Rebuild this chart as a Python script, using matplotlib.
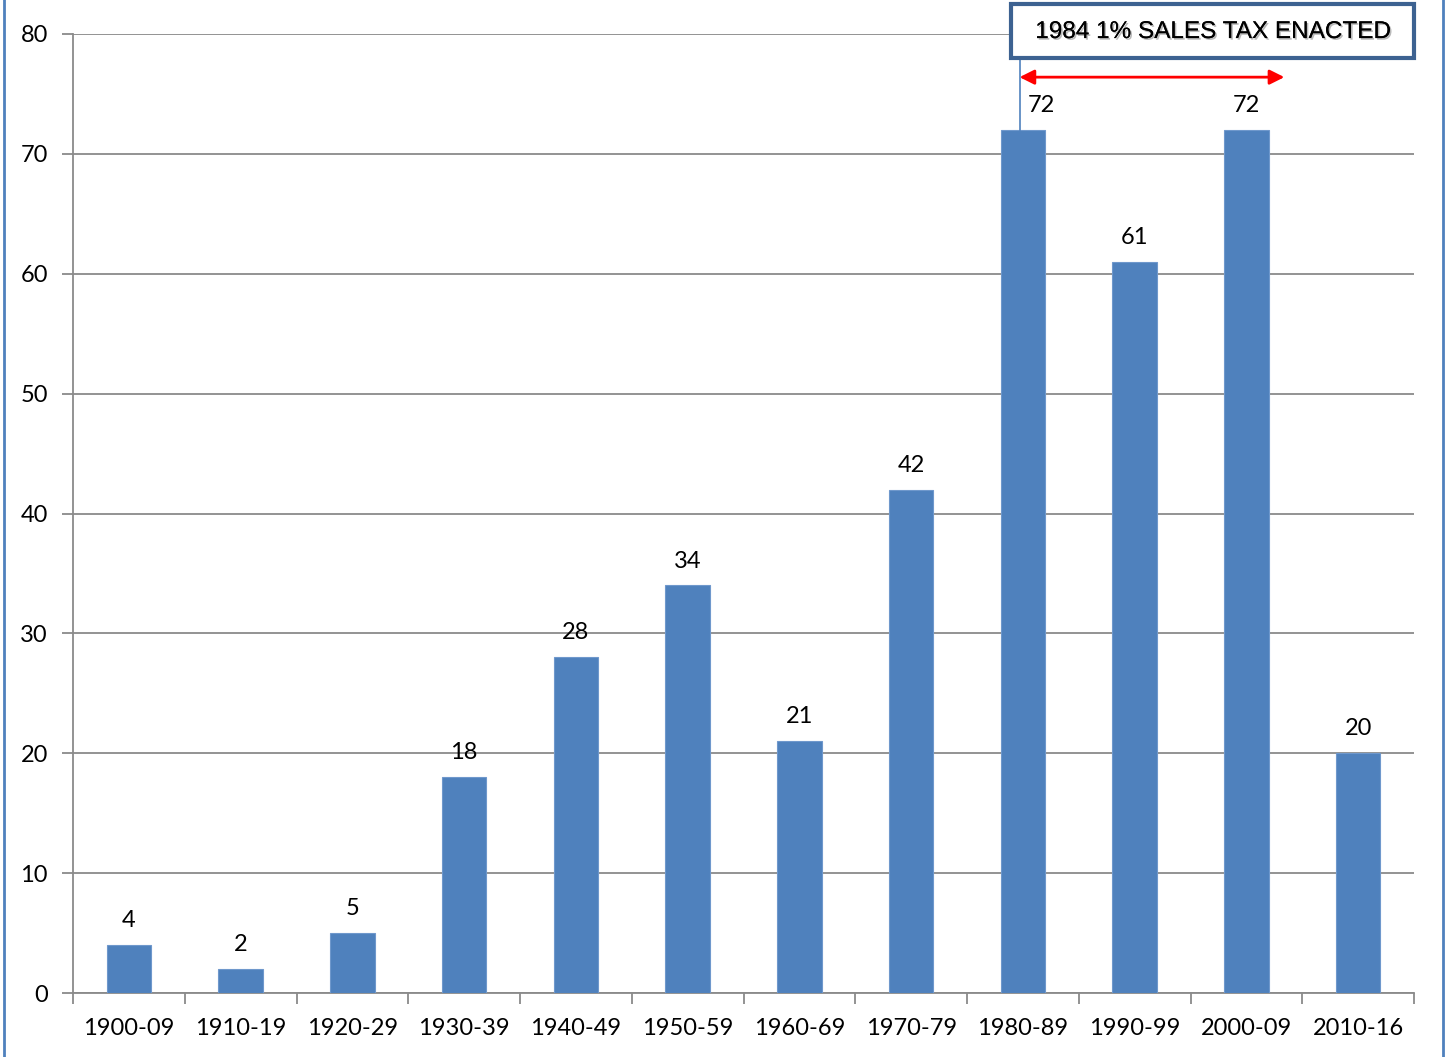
import matplotlib
matplotlib.use("Agg")
import matplotlib.pyplot as plt
from matplotlib.lines import Line2D
import matplotlib.patheffects as pe

categories = ["1900-09", "1910-19", "1920-29", "1930-39", "1940-49", "1950-59",
              "1960-69", "1970-79", "1980-89", "1990-99", "2000-09", "2010-16"]
values = [4, 2, 5, 18, 28, 34, 21, 42, 72, 61, 72, 20]
yticks = [0, 10, 20, 30, 40, 50, 60, 70, 80]
annotation_text = "1984 1% SALES TAX ENACTED"

plt.rcParams['font.family'] = ['Lato', 'DejaVu Sans']

fig = plt.figure(figsize=(14.47, 10.57), dpi=100)
ax = fig.add_axes([73/1447, 1 - 993/1057, (1414-73)/1447, (993-34)/1057])

x = list(range(len(categories)))
bar_color = '#4F81BD'
ax.bar(x, values, width=0.4, color=bar_color, edgecolor='#6f98cc', linewidth=0.8, zorder=3)

ax.set_xlim(-0.5, len(categories) - 0.5)
ax.set_ylim(0, 80)
ax.set_yticks(yticks)
ax.set_yticklabels([str(t) for t in yticks], fontsize=17)
ax.yaxis.grid(True, color='#8a8a8a', linewidth=1.3, zorder=0)
ax.set_axisbelow(True)

# x ticks at category boundaries, labels at centers
ax.set_xticks([i - 0.5 for i in range(len(categories) + 1)])
ax.set_xticklabels([])
ax.set_xticks(x, minor=True)
ax.set_xticklabels(categories, minor=True, fontsize=17)
ax.tick_params(axis='x', which='major', length=8, width=1.3, color='#8a8a8a', direction='out')
ax.tick_params(axis='x', which='minor', length=0, pad=18)
ax.tick_params(axis='y', length=8, width=1.3, color='#8a8a8a', direction='out', pad=10)

for s in ['top', 'right']:
    ax.spines[s].set_visible(False)
for s in ['left', 'bottom']:
    ax.spines[s].set_color('#8a8a8a')
    ax.spines[s].set_linewidth(1.3)

# value labels
for i, v in enumerate(values):
    dx = 0.17 if i == 8 else 0
    ax.annotate(str(v), (i + dx, v), xytext=(0, 10), textcoords='offset points',
                ha='center', va='bottom', fontsize=17, zorder=5)

# connector line from box to 1980-89 bar
ax.plot([7.97, 7.97], [72, 78.3], color='#4F81BD', linewidth=1.2, clip_on=False, zorder=4)

# red double arrow
ax.annotate('', xy=(10.34, 76.4), xytext=(7.97, 76.4),
            arrowprops=dict(arrowstyle='<|-|>', color='#FF0000', lw=2,
                            mutation_scale=22, shrinkA=0, shrinkB=0),
            annotation_clip=False, zorder=5)

# annotation box
bx0, bx1 = 1011/1447, 1414/1447
by0, by1 = 1 - 58/1057, 1 - 4/1057
rect = plt.Rectangle((bx0, by0), bx1 - bx0, by1 - by0, transform=fig.transFigure,
                     facecolor='white', edgecolor='#3d6291', linewidth=3, zorder=10)
fig.patches.append(rect)
fig.text((bx0 + bx1) / 2, (by0 + by1) / 2 - 0.001, annotation_text, ha='center', va='center',
         fontsize=17.5, family=['Liberation Sans', 'DejaVu Sans'], zorder=11,
         path_effects=[pe.withSimplePatchShadow(offset=(1.2, -1.2), shadow_rgbFace='#777777', alpha=0.5),
                       pe.Normal()])

# figure side borders
fig.add_artist(Line2D([4/1447, 4/1447], [0, 1], transform=fig.transFigure,
                      color='#4F81BD', linewidth=2))
fig.add_artist(Line2D([1443/1447, 1443/1447], [0, 1], transform=fig.transFigure,
                      color='#4F81BD', linewidth=2))

fig.savefig('out.png', dpi=100)
